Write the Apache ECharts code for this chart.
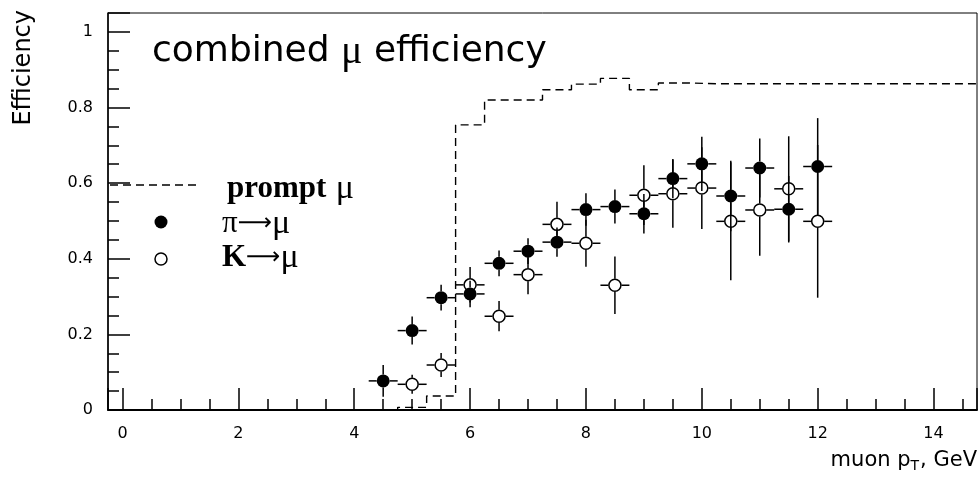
<!DOCTYPE html>
<html>
<head>
<meta charset="utf-8">
<script src="https://cdn.jsdelivr.net/npm/echarts@6/dist/echarts.min.js"></script>
<style>
  html, body { margin: 0; padding: 0; background: #fff; }
  #chart { width: 980px; height: 480px; }
</style>
</head>
<body>
<div id="chart"></div>
<script>
// pi -> mu decays: bin centre (GeV), efficiency, statistical error
const ptPion  = [4.5, 5.0, 5.5, 6.0, 6.5, 7.0, 7.5, 8.0, 8.5, 9.0, 9.5, 10.0, 10.5, 11.0, 11.5, 12.0];
const effPion = [0.077, 0.210, 0.297, 0.307, 0.388, 0.420, 0.444, 0.530, 0.538, 0.519, 0.612, 0.651, 0.566, 0.640, 0.531, 0.644];
const errPion = [0.042, 0.037, 0.034, 0.035, 0.034, 0.034, 0.039, 0.043, 0.045, 0.052, 0.052, 0.072, 0.093, 0.078, 0.088, 0.128];

// K -> mu decays
const ptKaon  = [5.0, 5.5, 6.0, 6.5, 7.0, 7.5, 8.0, 8.5, 9.0, 9.5, 10.0, 10.5, 11.0, 11.5, 12.0];
const effKaon = [0.068, 0.119, 0.331, 0.248, 0.358, 0.491, 0.441, 0.330, 0.568, 0.572, 0.587, 0.499, 0.529, 0.585, 0.499];
const errKaon = [0.025, 0.032, 0.047, 0.040, 0.052, 0.060, 0.062, 0.076, 0.079, 0.090, 0.108, 0.156, 0.121, 0.139, 0.202];

// prompt muons: histogram lower bin edges and contents (last edge closes the final bin)
const promptEdges = [4.25, 4.75, 5.25, 5.75, 6.25, 6.75, 7.25, 7.75, 8.25, 8.75, 9.25, 9.75,
                     10.25, 10.75, 11.25, 11.75, 12.25, 12.75, 13.25, 13.75, 14.25, 14.75];
const promptEff   = [0.000, 0.007, 0.037, 0.754, 0.820, 0.820, 0.847, 0.862, 0.877, 0.847, 0.865, 0.863,
                     0.863, 0.863, 0.863, 0.863, 0.863, 0.863, 0.863, 0.863, 0.863];

const binHalfWidth = 0.25;
const xRange = [-0.25, 14.75];
const yRange = [0, 1.05];

const SANS = 'DejaVu Sans';
const SERIF = 'Liberation Serif';
const MARKER_R = 6.5;

const pionData = ptPion.map((x, i) => [x, effPion[i], errPion[i]]);
const kaonData = ptKaon.map((x, i) => [x, effKaon[i], errKaon[i]]);

// prompt histogram as a step line: each bin starts at its lower edge
const promptLine = promptEff.map((v, i) => [promptEdges[i], v]);
promptLine.push([promptEdges[promptEdges.length - 1], promptEff[promptEff.length - 1]]);

// error bars with a gap where the marker sits
function errorBars(params, api) {
  const x = api.value(0), y = api.value(1), e = api.value(2);
  const c = api.coord([x, y]);
  const left = api.coord([x - binHalfWidth, y])[0];
  const right = api.coord([x + binHalfWidth, y])[0];
  const top = api.coord([x, y + e])[1];
  const bottom = api.coord([x, Math.max(y - e, 0)])[1];
  const r = MARKER_R;
  const style = { stroke: '#000', lineWidth: 1.5 };
  const kids = [];
  if (c[1] - top > r) kids.push({ type: 'line', shape: { x1: c[0], y1: top, x2: c[0], y2: c[1] - r }, style });
  if (bottom - c[1] > r) kids.push({ type: 'line', shape: { x1: c[0], y1: c[1] + r, x2: c[0], y2: bottom }, style });
  kids.push({ type: 'line', shape: { x1: left, y1: c[1], x2: c[0] - r, y2: c[1] }, style });
  kids.push({ type: 'line', shape: { x1: c[0] + r, y1: c[1], x2: right, y2: c[1] }, style });
  return { type: 'group', children: kids };
}

const chart = echarts.init(document.getElementById('chart'), null, { renderer: 'canvas' });

const legendRich = {
  b: { fontFamily: SERIF, fontWeight: 'bold', fontSize: 31, fill: '#000' },
  n: { fontFamily: SERIF, fontSize: 31, fill: '#000' },
  m: { fontFamily: SERIF, fontSize: 34, fill: '#000' },
  g: { fontFamily: SERIF, fontSize: 34, fill: '#000', padding: [0, 0, 0, 6] },
  a: { fontFamily: SANS, fontSize: 24, fill: '#000' }
};

chart.setOption({
  animation: false,
  backgroundColor: '#fff',
  grid: {
    left: 108, top: 13, width: 869, height: 397,
    show: true, borderColor: '#000', borderWidth: 1, backgroundColor: 'transparent'
  },
  xAxis: {
    type: 'value',
    min: xRange[0], max: xRange[1],
    splitNumber: 7,
    axisLine: { show: true, onZero: false, lineStyle: { color: '#000', width: 2 } },
    axisTick: { show: true, inside: true, length: 22, lineStyle: { color: '#000', width: 1.5 } },
    minorTick: { show: true, splitNumber: 4, length: 11, lineStyle: { color: '#000', width: 1.5 } },
    splitLine: { show: false },
    axisLabel: {
      color: '#000', fontFamily: SANS, fontSize: 16, margin: 16,
      showMinLabel: false, showMaxLabel: false,
      formatter: v => (Math.abs(v - Math.round(v)) < 1e-9 && Math.round(v) % 2 === 0) ? String(Math.round(v)) : ''
    },
    name: '{t|muon p}{s|T}{t|, GeV}',
    nameLocation: 'end',
    nameGap: 0,
    nameTextStyle: {
      align: 'right', verticalAlign: 'top', padding: [39, 0, 0, 0],
      rich: {
        t: { fontFamily: SANS, fontSize: 21, color: '#000' },
        s: { fontFamily: SANS, fontSize: 14, color: '#000', padding: [10, 1, 0, 0] }
      }
    }
  },
  yAxis: {
    type: 'value',
    min: yRange[0], max: yRange[1],
    interval: 0.2,
    axisLine: { show: true, onZero: false, lineStyle: { color: '#000', width: 1.5 } },
    axisTick: { show: true, inside: true, length: 22, lineStyle: { color: '#000', width: 1.5 } },
    minorTick: { show: true, splitNumber: 4, length: 11, lineStyle: { color: '#000', width: 1.5 } },
    splitLine: { show: false },
    axisLabel: {
      color: '#000', fontFamily: SANS, fontSize: 16, margin: 15,
      formatter: v => v > 1.001 ? '' : String(+v.toFixed(1))
    }
  },
  graphic: [
    {
      type: 'text', x: 24, y: 10, rotation: Math.PI / 2,
      style: { text: 'Efficiency', fontFamily: SANS, fontSize: 24, fill: '#000', align: 'right', verticalAlign: 'middle' }
    },
    {
      type: 'text', x: 152, y: 52,
      style: {
        text: '{s|combined }{m|μ}{s| efficiency}', align: 'left', verticalAlign: 'middle',
        rich: {
          s: { fontFamily: SANS, fontSize: 36, fill: '#000' },
          m: { fontFamily: SERIF, fontSize: 40, fill: '#000' }
        }
      }
    },
    // legend
    { type: 'line', shape: { x1: 110, y1: 185, x2: 200, y2: 185 }, style: { stroke: '#000', lineWidth: 1.3, lineDash: [8, 5] } },
    { type: 'circle', shape: { cx: 161, cy: 222, r: MARKER_R }, style: { fill: '#000' } },
    { type: 'circle', shape: { cx: 161, cy: 259, r: 6 }, style: { fill: 'none', stroke: '#000', lineWidth: 1.5 } },
    {
      type: 'text', x: 227, y: 189,
      style: { text: '{b|prompt} {g|μ}', align: 'left', verticalAlign: 'middle', rich: legendRich }
    },
    {
      type: 'text', x: 222, y: 224,
      style: { text: '{n|π}{a|⟶}{m|μ}', align: 'left', verticalAlign: 'middle', rich: legendRich }
    },
    {
      type: 'text', x: 222, y: 258,
      style: { text: '{b|K}{a|⟶}{m|μ}', align: 'left', verticalAlign: 'middle', rich: legendRich }
    }
  ],
  series: [
    {
      name: 'prompt μ', type: 'line', step: 'end', data: promptLine,
      symbol: 'none', z: 1,
      lineStyle: { color: '#000', width: 1.4, type: [8, 5] }
    },
    {
      name: 'K→μ errors', type: 'custom', data: kaonData, renderItem: errorBars,
      encode: { x: 0, y: 1 }, z: 2
    },
    {
      name: 'K→μ', type: 'scatter', data: kaonData, symbol: 'circle', symbolSize: 12,
      itemStyle: { color: 'transparent', borderColor: '#000', borderWidth: 1.5, opacity: 1 }, z: 3
    },
    {
      name: 'π→μ errors', type: 'custom', data: pionData, renderItem: errorBars,
      encode: { x: 0, y: 1 }, z: 4
    },
    {
      name: 'π→μ', type: 'scatter', data: pionData, symbol: 'circle', symbolSize: 13,
      itemStyle: { color: '#000', opacity: 1 }, z: 5
    }
  ]
});
</script>
</body>
</html>
